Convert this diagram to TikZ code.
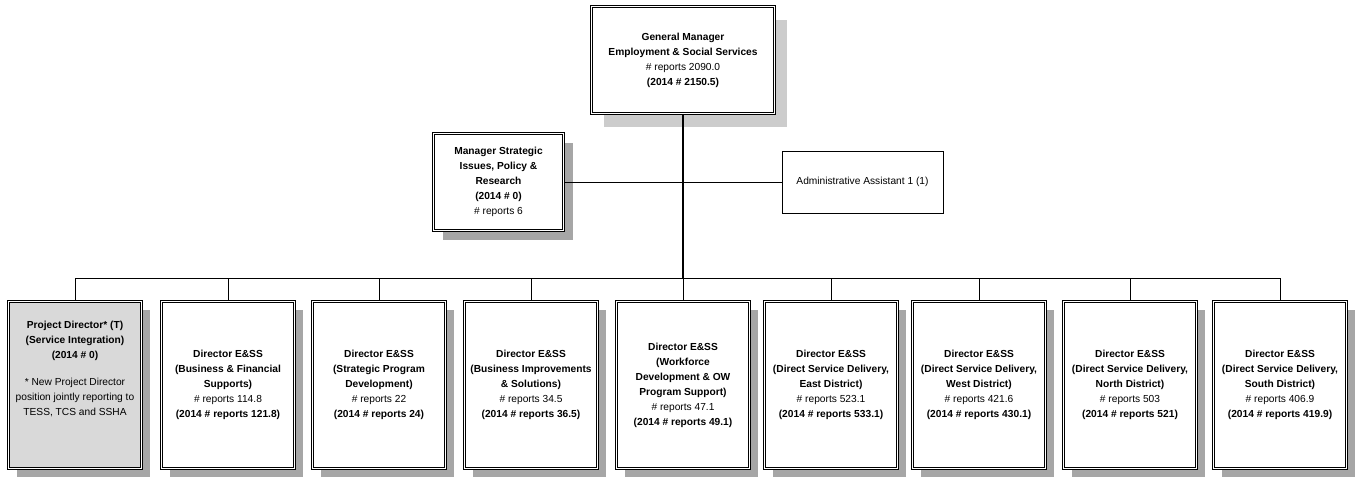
\documentclass[tikz,border=0pt]{standalone}
\usepackage{fontspec}
\setmainfont{Liberation Sans}
\usetikzlibrary{shadows}
\definecolor{shdark}{HTML}{A6A6A6}
\definecolor{shlight}{HTML}{CCCCCC}
\definecolor{boxgray}{HTML}{D9D9D9}
\begin{document}
\begin{tikzpicture}[x=1pt,y=-1pt,
  txt/.style={font=\fontsize{10.2}{15}\selectfont, align=center, inner sep=1pt},
  dbox/.style={txt, draw=black, line width=0.8pt, double=white, double distance=1.6pt, fill=white},
  gmbox/.style={dbox, minimum width=183pt, minimum height=107pt,
    general shadow={fill=shlight, shadow xshift=12pt, shadow yshift=-13pt}},
  mbox/.style={dbox, minimum width=130pt, minimum height=97pt,
    general shadow={fill=shdark, shadow xshift=9pt, shadow yshift=-9pt}},
  dirbox/.style={dbox, minimum width=133pt, minimum height=167pt,
    general shadow={fill=shdark, shadow xshift=8pt, shadow yshift=-8pt}},
  abox/.style={txt, draw=black, line width=0.8pt, fill=white, minimum width=161pt, minimum height=62pt},
  trunk/.style={line width=1.8pt},
  conn/.style={line width=0.9pt}]
\useasboundingbox (0,0) rectangle (1356,480);

\coordinate (bus) at (683,278);

\node[gmbox] (gm) at (683,60) {\textbf{General Manager}\\\textbf{Employment \& Social Services}\\\# reports 2090.0\\\textbf{(2014 \# 2150.5)}};

\node[mbox] (msr) at (498.5,182) {\textbf{Manager Strategic}\\\textbf{Issues, Policy \&}\\\textbf{Research}\\\textbf{(2014 \# 0)}\\\# reports 6};

\node[abox] (adm) at (862.5,182) {Administrative Assistant 1 (1)};

\node[dirbox, fill=boxgray] (d1) at (75,385) {\textbf{Project Director* (T)}\\\textbf{(Service Integration)}\\\textbf{(2014 \# 0)}\\[12pt]* New Project Director\\position jointly reporting to\\TESS, TCS and SSHA\\[18pt]\mbox{}};
\node[dirbox] (d2) at (228,385) {\textbf{Director E\&SS}\\\textbf{(Business \& Financial}\\\textbf{Supports)}\\\# reports 114.8\\\textbf{(2014 \# reports 121.8)}};
\node[dirbox] (d3) at (379,385) {\textbf{Director E\&SS}\\\textbf{(Strategic Program}\\\textbf{Development)}\\\# reports 22\\\textbf{(2014 \# reports 24)}};
\node[dirbox] (d4) at (531,385) {\textbf{Director E\&SS}\\\textbf{(Business Improvements}\\\textbf{\& Solutions)}\\\# reports 34.5\\\textbf{(2014 \# reports 36.5)}};
\node[dirbox] (d5) at (683,385) {\textbf{Director E\&SS}\\\textbf{(Workforce}\\\textbf{Development \& OW}\\\textbf{Program Support)}\\\# reports 47.1\\\textbf{(2014 \# reports 49.1)}};
\node[dirbox] (d6) at (831,385) {\textbf{Director E\&SS}\\\textbf{(Direct Service Delivery,}\\\textbf{East District)}\\\# reports 523.1\\\textbf{(2014 \# reports 533.1)}};
\node[dirbox] (d7) at (979,385) {\textbf{Director E\&SS}\\\textbf{(Direct Service Delivery,}\\\textbf{West District)}\\\# reports 421.6\\\textbf{(2014 \# reports 430.1)}};
\node[dirbox] (d8) at (1130,385) {\textbf{Director E\&SS}\\\textbf{(Direct Service Delivery,}\\\textbf{North District)}\\\# reports 503\\\textbf{(2014 \# reports 521)}};
\node[dirbox] (d9) at (1280,385) {\textbf{Director E\&SS}\\\textbf{(Direct Service Delivery,}\\\textbf{South District)}\\\# reports 406.9\\\textbf{(2014 \# reports 419.9)}};

\draw[conn] (msr.east) -- (adm.west);
\draw[trunk] (gm.south) -- (bus);
\draw[conn] (d1.north |- bus) -- (d9.north |- bus);
\foreach \n in {d1,d2,d3,d4,d5,d6,d7,d8,d9}
  \draw[conn] (\n.north |- bus) -- (\n.north);
\end{tikzpicture}
\end{document}
